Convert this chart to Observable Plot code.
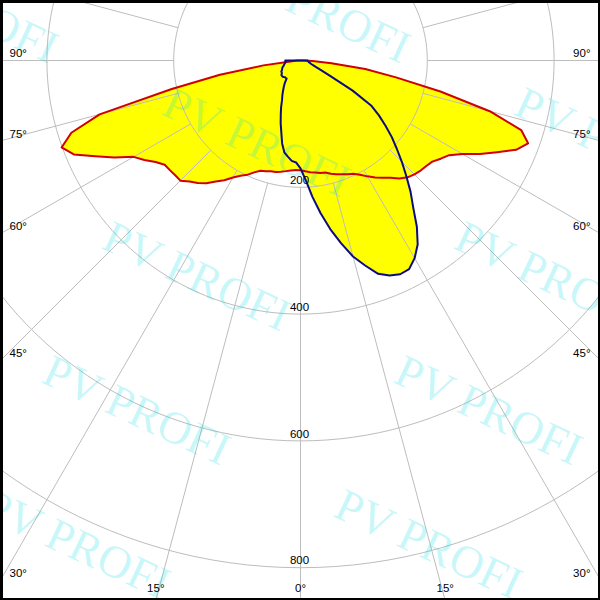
<!DOCTYPE html>
<html>
<head>
<meta charset="utf-8">
<script src="https://cdn.jsdelivr.net/npm/d3@7"></script>
<script src="https://cdn.jsdelivr.net/npm/@observablehq/plot@0.6"></script>
<style>
  body { margin: 0; background: #fff; }
  svg { display: block; overflow: hidden; }
</style>
</head>
<body>
<div id="chart"></div>
<script>
// ---- data (luminous intensity, cd) ----
const gamma = [-90,-87.5,-85,-82.5,-80,-77.5,-75,-72.5,-70,-67.5,-65,-62.5,-60,-57.5,-55,-52.5,-50,-47.5,-45,-42.5,
  -40,-37.5,-35,-32.5,-30,-27.5,-25,-22.5,-20,-17.5,-15,-12.5,-10,-7.5,-5,-2.5,0,
  2.5,5,7.5,10,12.5,15,17.5,20,22.5,25,27.5,30,32.5,35,37.5,40,42.5,45,47.5,50,
  52.5,55,57.5,60,62.5,65,67.5,70,72.5,75,77.5,80,82.5,85,87.5,90];

// C0-C180 plane (red outline)
const planeC0C180 = [5,8,16,59,129,208,328,379,401,387,357,331,304,292,279,270,269,268,268,259,
  252,244,233,224,213,205,199,191,185,183,181,180,178,176,174,173,173,
  175,177,178,180,181,185,188,191,194,197,203,211,219,226,233,243,250,254,257,259,
  262,270,278,295,319,342,368,382,365,309,226,153,103,49,19,6];

// C90-C270 plane (blue outline)
const planeC90C270 = [24,24,24,24,25,26,27,28,30,31,32,33,35,35,36,38,38,38,37,36,
  36,36,43,49,55,62,69,80,91,104,117,134,147,153,159,161,170,
  189,216,243,270,295,320,339,358,367,372,371,360,344,320,292,270,247,226,206,188,
  169,151,132,95,54,35,26,21,17,16,14,13,13,12,11,11];

const ringValues = [200, 400, 600, 800];
const ringLabels = ["200", "400", "600", "800"];
const spokeAngles = [-165,-150,-135,-120,-105,-90,-75,-60,-45,-30,-15,0,15,30,45,60,75,90,105,120,135,150,165,180];
const labelAngles = [-90,-75,-60,-45,-30,-15,0,15,30,45,60,75,90];
const watermarkText = "PV PROFI";

// ---- layout ----
const W = 600, H = 600;
const k = 0.634;          // px per cd
const cx = 300, cy = 60;  // pole position in px
const xDomain = [-cx / k, (W - cx) / k];
const yDomain = [-cy / k, (H - cy) / k];
const rad = d => d * Math.PI / 180;
const polar = (g, I) => ({x: I * Math.sin(rad(g)), y: I * Math.cos(rad(g))});

const redPts = gamma.map((g, i) => polar(g, planeC0C180[i]));
const bluePts = gamma.map((g, i) => polar(g, planeC90C270[i]));
const redClosed = [...redPts, redPts[0]];
const blueClosed = [...bluePts, bluePts[0]];

const ringPts = ringValues.flatMap(r => d3.range(0, 361, 2).map(t => ({r, ...polar(t, r)})));
const spokes = spokeAngles.map(a => {
  const p1 = polar(a, 200), p2 = polar(a, 1500);
  return {x1: p1.x, y1: p1.y, x2: p2.x, y2: p2.y};
});

// angle labels at the point where each spoke leaves the frame
const angleLbl = labelAngles.map(a => {
  const s = Math.sin(rad(a)), c = Math.cos(rad(a));
  const tSide = Math.abs(s) > 1e-9 ? xDomain[1] / Math.abs(s) : Infinity;
  const tBot = c > 1e-9 ? yDomain[1] / c : Infinity;
  const t = Math.min(tSide, tBot);
  const side = tSide < tBot ? (a < 0 ? "left" : "right") : "bottom";
  return {x: t * s, y: t * c, text: Math.abs(a) + "°", side};
});

// watermark lattice (decoration)
const wm = [];
for (let i = -2; i <= 2; i++) for (let j = -3; j <= 3; j++) {
  const px = 196 + i * 352 + j * -60, py = 276 + j * 134;
  if (px > -160 && px < 760 && py > -90 && py < 700) wm.push({x: (px - cx) / k, y: (py - cy) / k});
}

const font = "Liberation Sans, Arial, sans-serif";
const chart = Plot.plot({
  width: W, height: H,
  margin: 0,
  x: {domain: xDomain, axis: null},
  y: {domain: yDomain, reverse: true, axis: null},
  style: {background: "#fff", fontFamily: font},
  marks: [
    Plot.line(redPts, {x: "x", y: "y", fill: "#ffff00", stroke: "none", clip: true}),
    Plot.line(bluePts, {x: "x", y: "y", fill: "#ffff00", stroke: "none", clip: true}),
    Plot.line(ringPts, {x: "x", y: "y", z: "r", stroke: "#bdbdbd", strokeWidth: 1, clip: true}),
    Plot.link(spokes, {x1: "x1", y1: "y1", x2: "x2", y2: "y2", stroke: "#bdbdbd", strokeWidth: 1, clip: true}),
    Plot.text(wm, {x: "x", y: "y", text: () => watermarkText, rotate: 25, fontSize: 46,
      fontFamily: "Liberation Serif, Times New Roman, serif", fill: "#00dde6", fillOpacity: 0.22,
      textAnchor: "middle", lineAnchor: "middle", clip: true}),
    Plot.line(redClosed, {x: "x", y: "y", stroke: "#d00000", strokeWidth: 2, strokeLinejoin: "round", clip: true}),
    Plot.line(blueClosed, {x: "x", y: "y", stroke: "#0c0c80", strokeWidth: 2, strokeLinejoin: "round", clip: true}),
    Plot.text(ringValues, {x: () => 0, y: d => d, text: (d, i) => ringLabels[i], dy: -7, dx: -1,
      fontSize: 11.5, fill: "#000", lineAnchor: "middle"}),
    Plot.text(angleLbl.filter(d => d.side === "left"), {x: "x", y: "y", text: "text", dx: 9, dy: -7,
      textAnchor: "start", lineAnchor: "middle", fontSize: 11.5, fill: "#000"}),
    Plot.text(angleLbl.filter(d => d.side === "right"), {x: "x", y: "y", text: "text", dx: -10, dy: -7,
      textAnchor: "end", lineAnchor: "middle", fontSize: 11.5, fill: "#000"}),
    Plot.text(angleLbl.filter(d => d.side === "bottom"), {x: "x", y: "y", text: "text", dy: -12,
      textAnchor: "middle", lineAnchor: "middle", fontSize: 11.5, fill: "#000"}),
    Plot.frame({stroke: "#000", strokeWidth: 5})
  ]
});
document.getElementById("chart").append(chart);
</script>
</body>
</html>
